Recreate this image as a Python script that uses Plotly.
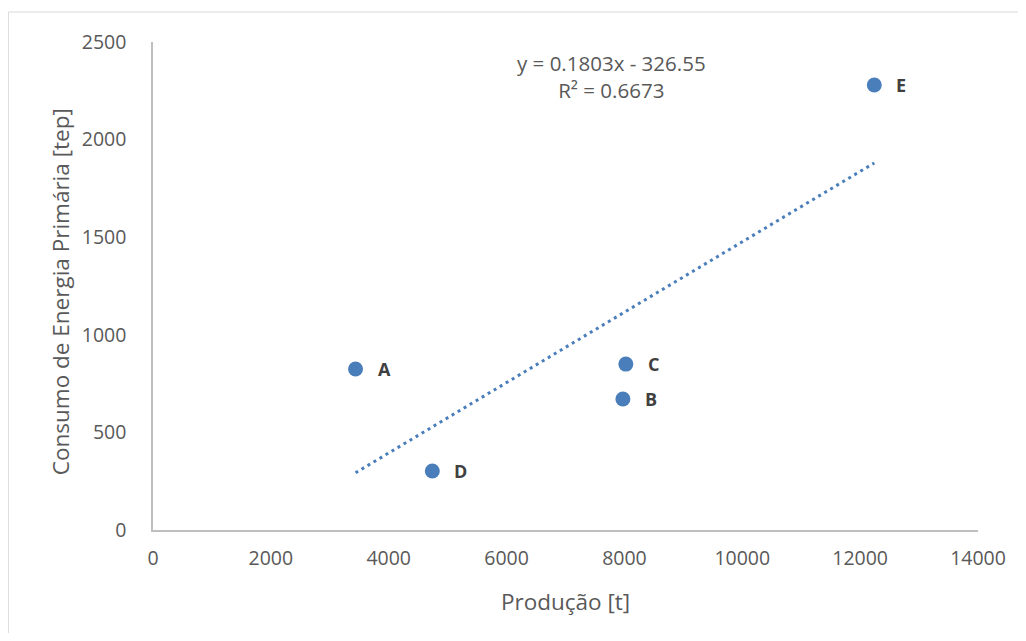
import plotly.graph_objects as go
import numpy as np

labels = ["A", "B", "C", "D", "E"]
producao = [3437, 7974, 8024, 4740, 12240]
consumo = [825, 671, 850, 302, 2280]
slope = 0.1803
intercept = -326.55
r2 = 0.6673

W, H = 1010, 625
L, R, T, B = 145, 38, 34, 103
pw, ph = W - L - R, H - T - B

blue = "#4a7ebb"
font = "Open Sans"
grey = "#595959"

fig = go.Figure()

xt = np.array([min(producao), max(producao)])
fig.add_trace(go.Scatter(x=xt, y=slope * xt + intercept, mode="lines",
                         line=dict(color=blue, width=3, dash="3px,4px"),
                         hoverinfo="skip", showlegend=False))

fig.add_trace(go.Scatter(x=producao, y=consumo, mode="markers",
                         marker=dict(color=blue, size=15),
                         showlegend=False))

for lab, x, y in zip(labels, producao, consumo):
    fig.add_annotation(x=x, y=y, text="<b>%s</b>" % lab, showarrow=False,
                       xanchor="left", yanchor="middle", xshift=20,
                       font=dict(family=font, size=18, color="#404040"))

fig.add_annotation(x=0.5562, y=0.9293, xref="paper", yref="paper",
                   text="y = %.4fx - %.2f<br>R² = %.4f" % (slope, -intercept, r2),
                   showarrow=False, xanchor="center", yanchor="middle",
                   font=dict(family=font, size=20.5, color=grey))

fig.add_annotation(x=0.5, y=-0.1475, xref="paper", yref="paper",
                   text="Produção [t]", showarrow=False,
                   xanchor="center", yanchor="middle",
                   font=dict(family=font, size=22.5, color=grey))
fig.add_annotation(x=-0.1125, y=0.4877, xref="paper", yref="paper",
                   text="Consumo de Energia Primária [tep]", showarrow=False,
                   textangle=-90, xanchor="center", yanchor="middle",
                   font=dict(family=font, size=22.5, color=grey))

fig.add_shape(type="rect", xref="paper", yref="paper",
              x0=(0 - L) / pw, x1=(W + 20 - L) / pw,
              y0=-(B + 20) / ph, y1=(ph + T - 4) / ph,
              line=dict(color="#d9d9d9", width=1))

fig.update_layout(
    width=W, height=H,
    margin=dict(l=L, r=R, t=T, b=B),
    paper_bgcolor="white", plot_bgcolor="white",
    font=dict(family=font, color=grey),
    xaxis=dict(range=[0, 14000], dtick=2000, tickformat="d", showgrid=False, zeroline=False,
               showline=True, linecolor="#bfbfbf", linewidth=1.5,
               ticks="", ticklabelstandoff=10, tickfont=dict(size=19.5, color=grey)),
    yaxis=dict(range=[0, 2500], dtick=500, tickformat="d", showgrid=False, zeroline=False,
               showline=True, linecolor="#bfbfbf", linewidth=1.5,
               ticks="", ticklabelstandoff=21, tickfont=dict(size=19.5, color=grey)),
)

fig.write_html("out.html")
